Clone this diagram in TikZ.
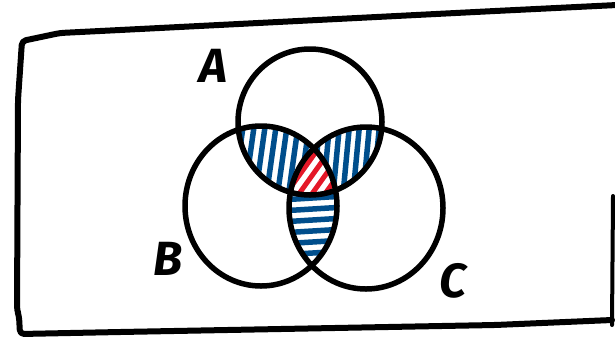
\documentclass[tikz,border=0pt]{standalone}
\usepackage{fontspec}
\setsansfont{Fira Sans}
\usepackage{xcolor}
\usepackage{tikz}

\definecolor{hatchblue}{RGB}{0,78,140}
\definecolor{hatchred}{RGB}{228,24,40}

\begin{document}
\begin{tikzpicture}[
    x=1pt, y=-1pt,
    pen/.style={line width=5.5pt, line cap=round, line join=round},
    hatchb/.style={hatchblue, line width=5.5pt, line cap=round},
    hatchr/.style={hatchred, line width=5pt, line cap=round},
    lab/.style={font=\sffamily\bfseries\itshape\fontsize{48}{48}\selectfont, inner sep=0pt},
]
\useasboundingbox (0,0) rectangle (615,341);

% Centres of the three sets
\coordinate (cA) at (310,122);
\coordinate (cB) at (261,206);
\coordinate (cC) at (366,208);

% Blue hatching: A and B
\begin{scope}
  \clip (cA) ellipse [x radius=72, y radius=73];
  \clip (cB) ellipse [x radius=76, y radius=80];
  \foreach \x in {238,249,...,310}
    \draw[hatchb] (\x+6,120) -- (\x-6,205);
\end{scope}

% Blue hatching: A and C
\begin{scope}
  \clip (cA) ellipse [x radius=72, y radius=73];
  \clip (cC) ellipse [x radius=77, y radius=81];
  \foreach \x in {316,326,...,390}
    \draw[hatchb] (\x+4,120) -- (\x-4,205);
\end{scope}

% Blue hatching: B and C
\begin{scope}
  \clip (cB) ellipse [x radius=76, y radius=80];
  \clip (cC) ellipse [x radius=77, y radius=81];
  \foreach \y in {198,209,...,276}
    \draw[hatchb] (280,\y+2) -- (345,\y-2);
\end{scope}

% Red hatching: A, B and C
\begin{scope}
  \clip (cA) ellipse [x radius=72, y radius=73];
  \clip (cB) ellipse [x radius=76, y radius=80];
  \clip (cC) ellipse [x radius=77, y radius=81];
  \fill[white] (250,100) rectangle (360,240);
  \foreach \x in {252,265,...,340}
    \draw[hatchr] (\x,205) -- (\x+50,135);
\end{scope}

% Circles
\draw[pen] (cA) ellipse [x radius=72, y radius=73];
\draw[pen] (cB) ellipse [x radius=76, y radius=80];
\draw[pen] (cC) ellipse [x radius=77, y radius=81];

% Labels
\node[lab] (labA) at (213,66)  {A};
\node[lab] (labB) at (168,259) {B};
\node[lab] (labC) at (453,281) {C};

% Frame
\draw[pen, line width=6pt, rounded corners=4pt]
  (617,5) -- (495,11) -- (120,30) -- (60,33) -- (22,41) -- (18,100)
  -- (17,310) -- (19,316) -- (20,334) -- (120,332) -- (495,325) -- (612,320);
\draw[pen, line width=4pt] (612,325) -- (613,196);

\end{tikzpicture}
\end{document}
